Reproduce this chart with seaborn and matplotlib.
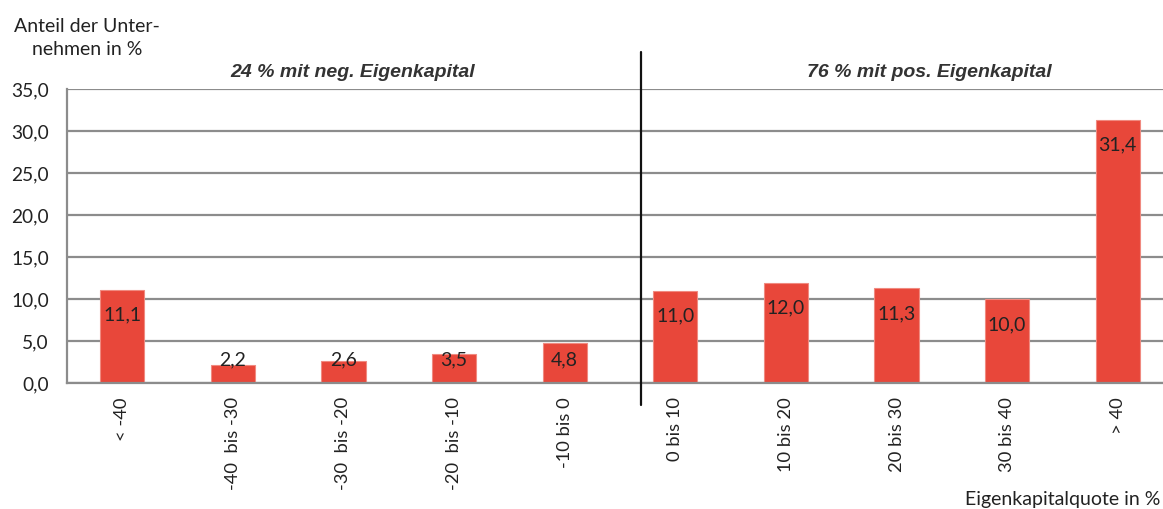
import matplotlib
matplotlib.use("Agg")
import matplotlib.pyplot as plt
import seaborn as sns
import numpy as np
import pandas as pd

# Equity ratio classes and share of companies (%)
categories = ["< -40", "-40  bis -30", "-30  bis -20", "-20  bis -10", "-10 bis 0",
              "0 bis 10", "10 bis 20", "20 bis 30", "30 bis 40", "> 40"]
shares = [11.1, 2.2, 2.6, 3.5, 4.8, 11.0, 12.0, 11.3, 10.0, 31.4]
group_titles = ["24 % mit neg. Eigenkapital", "76 % mit pos. Eigenkapital"]
y_ticks = [0, 5, 10, 15, 20, 25, 30, 35]

sns.set_theme(style="white")
plt.rcParams["font.family"] = ["Lato", "DejaVu Sans"]

W, H = 1163, 509
fig = plt.figure(figsize=(W / 100, H / 100), dpi=100)
# plot area runs slightly past the right figure edge
ax = fig.add_axes([67 / W, (H - 383.3) / H, 1106 / W, 294 / H])

df = pd.DataFrame({"Klasse": categories, "Anteil": shares})
bar_color = "#E8473A"
sns.barplot(data=df, x="Klasse", y="Anteil", color=bar_color, width=0.4,
            saturation=1, ax=ax, zorder=3, edgecolor="#F08A80", linewidth=0.8)

ax.set_xlim(-0.5, len(categories) - 0.5)
ax.set_ylim(0, 35)
ax.set_yticks(y_ticks)
ax.set_yticklabels([f"{v:.1f}".replace(".", ",") for v in y_ticks],
                   fontsize=13.8, color="#222222")
ax.yaxis.grid(True, color="#8C8C8C", linewidth=1.6, zorder=0)
ax.xaxis.grid(False)

# category labels at bar centres, tick marks at class boundaries
ax.set_xticks(range(len(categories)))
ax.set_xticklabels(categories, rotation=90, fontsize=13.2, color="#222222",
                   va="top", ha="center")
ax.set_xticks(np.arange(-0.5, len(categories), 1.0), minor=True)
ax.tick_params(axis="x", which="major", length=0, pad=10)
ax.tick_params(axis="x", which="minor", length=5, width=1.3, color="#8C8C8C",
               direction="out")
ax.tick_params(axis="y", which="major", length=5, width=1.3, color="#8C8C8C",
               direction="out", pad=8)
ax.set_xlabel("")
ax.set_ylabel("")

for side in ["top", "right"]:
    ax.spines[side].set_visible(False)
for side in ["left", "bottom"]:
    ax.spines[side].set_color("#8C8C8C")
    ax.spines[side].set_linewidth(1.6)
ax.spines["left"].set_zorder(4)
ax.spines["bottom"].set_zorder(4)

# value labels inside the bar tops, kept above the baseline for short bars
for i, v in enumerate(shares):
    ypos = max(v - 3.0, 2.8)
    ax.text(i, ypos, f"{v:.1f}".replace(".", ","), ha="center", va="center",
            fontsize=14, color="#222222", zorder=5)

# divider between negative and positive equity groups
ax.axvline(4.69, ymin=-0.075, ymax=1.126, color="#111111", linewidth=1.6,
           clip_on=False, zorder=6)

ax.text(2.08, 37.0, group_titles[0], ha="center", va="center",
        fontsize=14, fontweight="bold", style="italic", color="#333333",
        family=["Liberation Sans", "DejaVu Sans"])
ax.text(7.3, 37.0, group_titles[1], ha="center", va="center",
        fontsize=14, fontweight="bold", style="italic", color="#333333",
        family=["Liberation Sans", "DejaVu Sans"])

fig.text(87 / W, 1 - 38 / H, "Anteil der Unter-\nnehmen in %", ha="center",
         va="center", fontsize=14, color="#222222", linespacing=1.45)
fig.text(1160 / W, 1 - 499 / H, "Eigenkapitalquote in %", ha="right",
         va="center", fontsize=14, color="#222222")

fig.savefig("out.png", dpi=100)
